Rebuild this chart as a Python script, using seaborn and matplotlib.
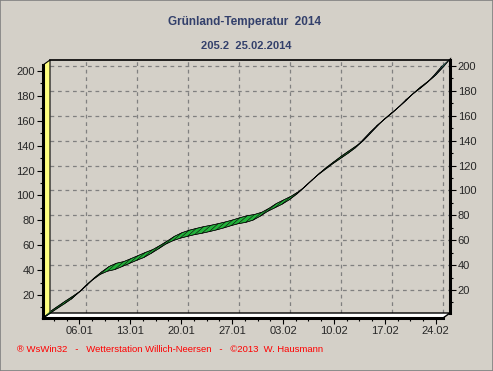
import numpy as np
import pandas as pd
import seaborn as sns
import matplotlib.pyplot as plt
import matplotlib.dates as mdates
from matplotlib.ticker import MultipleLocator, FixedLocator
from matplotlib.patches import Polygon
from matplotlib.transforms import Affine2D

# Gruenland-Temperatursumme, daily values 01.01. - 25.02.2014
days = pd.date_range("2014-01-01", "2014-02-25", freq="D")
gts = [2.0, 6.0, 10.0, 13.8, 17.8, 22.9, 28.8, 33.5, 37.7, 40.3,
       41.6, 44.0, 46.5, 49.0, 51.3, 54.6, 58.2, 62.0, 64.8, 66.8,
       68.3, 69.7, 70.8, 72.1, 73.5, 75.1, 76.9, 78.5, 79.5, 81.3,
       84.5, 88.3, 91.2, 94.1, 97.7, 102.1, 107.6, 113.0, 117.9, 122.3,
       126.7, 130.7, 134.7, 139.0, 145.1, 151.3, 157.0, 161.9, 166.7, 172.0,
       177.8, 182.7, 187.2, 192.0, 198.4, 205.2]
y_ticks = [20, 40, 60, 80, 100, 120, 140, 160, 180, 200]

title = "Grünland-Temperatur  2014"
subtitle = "205.2  25.02.2014"
footer = "® WsWin32   -   Wetterstation Willich-Neersen   -   ©2013  W. Hausmann"

bg = "#d4d0c8"
sns.set_theme(style="ticks")
plt.rcParams["font.family"] = ["Liberation Sans", "DejaVu Sans"]

W, H = 493, 371
fig = plt.figure(figsize=(W / 100, H / 100), dpi=100, facecolor=bg)


def box(l, t, r, b):
    return [l / W, 1 - b / H, (r - l) / W, (b - t) / H]


# back plane (grid, right axis) and front plane (left/bottom axis)
ax = fig.add_axes(box(50, 60, 450, 313))
ax2 = fig.add_axes(box(43, 65, 443, 318))
rib_x, rib_y = 9, 8  # pixel depth of the ribbon

x0, x1 = mdates.date2num(days[0]), mdates.date2num(days[-1])
ylo, yhi = 1.5, 204.8
for a in (ax, ax2):
    a.set_xlim(x0, x1)
    a.set_ylim(ylo, yhi)
    a.xaxis.set_major_locator(mdates.WeekdayLocator(byweekday=mdates.MO))
    a.xaxis.set_major_formatter(mdates.DateFormatter("%d.%m"))
    monday = mdates.date2num(pd.Timestamp("2014-01-06"))
    minors = monday + 1.75 * np.arange(-3, 40)
    a.xaxis.set_minor_locator(FixedLocator(minors[(minors >= x0) & (minors <= x1)]))
    a.yaxis.set_major_locator(FixedLocator(y_ticks))
    a.yaxis.set_minor_locator(MultipleLocator(10))

ax.set_facecolor(bg)
ax.grid(True, which="major", color="#808080", linestyle=(0, (3, 3)), linewidth=0.9)
for s in ("left", "bottom"):
    ax.spines[s].set_visible(False)
ax.spines["top"].set_linewidth(1.2)
ax.spines["right"].set_linewidth(2.2)
for s in ("top", "right"):
    ax.spines[s].set_color("black")
ax.tick_params(axis="x", which="both", bottom=False, labelbottom=False)
ax.tick_params(axis="y", which="both", left=False, labelleft=False,
               right=True, labelright=True, direction="out", color="black")
ax.tick_params(axis="y", which="major", length=4, width=0.8, labelsize=8, pad=1.5)
ax.tick_params(axis="y", which="minor", length=2, width=0.8)

ax2.patch.set_visible(False)
for s in ("top", "right"):
    ax2.spines[s].set_visible(False)
for s in ("left", "bottom"):
    ax2.spines[s].set_linewidth(2.2)
    ax2.spines[s].set_color("black")
ax2.tick_params(which="both", direction="out", color="black")
ax2.tick_params(which="major", length=4, width=0.8, labelsize=8, pad=2)
ax2.tick_params(which="minor", length=2, width=0.8)

# 3D walls, drawn in pixel coordinates of the figure
px = Affine2D().scale(1 / W, -1 / H).translate(0, 1) + fig.transFigure
wall = Polygon([(43, 318), (43, 65), (50, 60), (50, 313)], closed=True,
               facecolor="#ffff80", edgecolor="black", linewidth=0.8,
               transform=px, clip_on=False, zorder=1.5)
floor = Polygon([(43, 318), (50, 313), (450, 313), (443, 318)], closed=True,
                facecolor="white", edgecolor="black", linewidth=1.0,
                transform=px, clip_on=False, zorder=1.5)
ax.add_patch(wall)
ax.add_patch(floor)

# ribbon, centred between back and front plane
xs = mdates.date2num(days)
ys = np.array(gts)
ppx = 400 / (x1 - x0)
ppy = 253 / (yhi - ylo)
bx = xs + (rib_x / 2 - 3.5) / ppx
by = ys + (rib_y / 2 - 2.5) / ppy
fx = bx - rib_x / ppx
fy = by - rib_y / ppy
for i in range(len(xs) - 1):
    ex = (xs[i + 1] - xs[i]) * ppx
    ey = (ys[i + 1] - ys[i]) * ppy
    top = ey * rib_x < ex * rib_y
    quad = [(bx[i], by[i]), (bx[i + 1], by[i + 1]),
            (fx[i + 1], fy[i + 1]), (fx[i], fy[i])]
    ax.add_patch(Polygon(quad, closed=True,
                         facecolor="#22b23a" if top else "#2b6f66",
                         edgecolor="black", linewidth=0.3,
                         clip_on=False, zorder=3))

sns.lineplot(x=bx, y=by, ax=ax, color="black", linewidth=0.5, zorder=4, clip_on=False)
sns.lineplot(x=fx, y=fy, ax=ax, color="black", linewidth=0.5, zorder=4, clip_on=False)
ax.set_xlabel("")
ax.set_ylabel("")
ax.set_xlim(x0, x1)
ax.set_ylim(ylo, yhi)

fig.text(245 / W, 1 - 22 / H, title, ha="center", va="center",
         fontsize=8.5, fontweight="bold", color="#33406b")
fig.text(246 / W, 1 - 46 / H, subtitle, ha="center", va="center",
         fontsize=8, fontweight="bold", color="#33406b")
fig.text(17 / W, 1 - 350 / H, footer, ha="left", va="center",
         fontsize=6.8, color="#ff0000")

# window frame
fig.patches.append(plt.Rectangle((0, 0), 1, 1, transform=fig.transFigure,
                                 fill=False, edgecolor="#808080", linewidth=1.2))

fig.savefig("out.png", dpi=100, facecolor=bg)
